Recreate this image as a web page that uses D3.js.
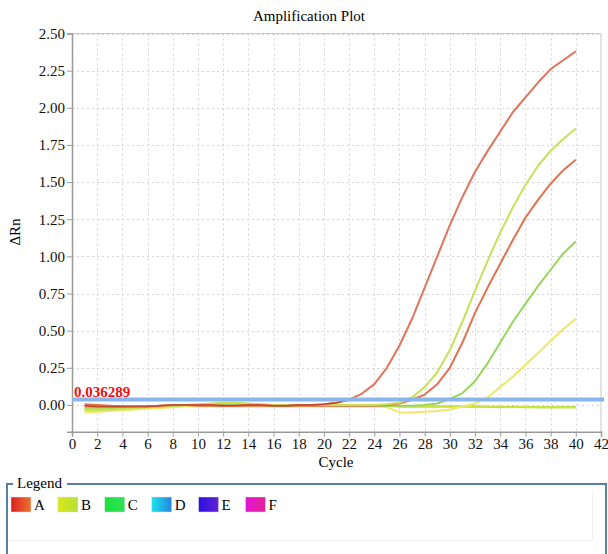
<!DOCTYPE html>
<html>
<head>
<meta charset="utf-8">
<script src="https://cdn.jsdelivr.net/npm/d3@7"></script>
<style>
    html, body { margin: 0; padding: 0; background: #fff; }
    svg { display: block; }
</style>
</head>
<body>
<div id="amp_chart"></div>
<script>
// cycle numbers and tick values
const cycles = [1, 2, 3, 4, 5, 6, 7, 8, 9, 10, 11, 12, 13, 14, 15, 16, 17, 18, 19, 20,
    21, 22, 23, 24, 25, 26, 27, 28, 29, 30, 31, 32, 33, 34, 35, 36, 37, 38, 39, 40];
const xTicks = [0, 2, 4, 6, 8, 10, 12, 14, 16, 18, 20, 22, 24, 26, 28, 30, 32, 34, 36, 38, 40, 42];
const yTicks = [0, 0.25, 0.5, 0.75, 1.0, 1.25, 1.5, 1.75, 2.0, 2.25, 2.5];
const threshold = 0.036289;

// delta Rn per well
const wellC2 = [-0.02, -0.02, -0.02, -0.015, -0.015, -0.01, -0.01, -0.005, -0.005, -0.005,
    -0.005, 0.0, 0.0, 0.0, -0.005, -0.005, -0.005, -0.005, -0.005, -0.005,
    -0.005, -0.005, -0.005, -0.005, -0.005, -0.01, -0.01, -0.01, -0.01, -0.01,
    -0.01, -0.01, -0.012, -0.015, -0.012, -0.015, -0.015, -0.015, -0.015, -0.015];
const wellB3 = [-0.035, -0.035, -0.03, -0.03, -0.025, -0.02, -0.015, -0.01, -0.005, 0.0,
    0.005, 0.01, 0.01, 0.005, 0.0, 0.0, -0.005, -0.005, -0.005, -0.005,
    -0.005, -0.005, -0.005, -0.005, -0.005, -0.008, -0.01, -0.01, -0.01, -0.01,
    -0.01, -0.012, -0.012, -0.012, -0.015, -0.012, -0.015, -0.015, -0.015, -0.015];
const wellB2 = [-0.05, -0.045, -0.04, -0.035, -0.03, -0.025, -0.02, -0.015, -0.01, -0.01,
    -0.01, -0.01, -0.01, -0.01, -0.01, -0.01, -0.01, -0.01, -0.01, -0.01,
    -0.01, -0.01, -0.01, -0.01, -0.015, -0.05, -0.05, -0.045, -0.04, -0.03,
    -0.01, 0.01, 0.05, 0.12, 0.19, 0.27, 0.35, 0.43, 0.51, 0.58];
const wellC1 = [-0.02, -0.02, -0.02, -0.02, -0.015, -0.01, -0.01, -0.005, 0.0, 0.0,
    0.0, 0.0, 0.0, 0.0, 0.0, 0.0, 0.0, 0.0, -0.005, -0.005,
    -0.005, -0.005, -0.005, -0.005, -0.005, -0.005, -0.005, 0.0, 0.01, 0.04,
    0.08, 0.16, 0.28, 0.42, 0.56, 0.68, 0.80, 0.91, 1.02, 1.10];
const wellA2 = [0.005, 0.0, -0.005, -0.01, -0.01, -0.01, -0.005, 0.0, 0.0, -0.005,
    -0.005, -0.005, -0.005, -0.005, -0.005, -0.005, -0.005, -0.005, -0.005, -0.005,
    -0.005, -0.005, -0.005, -0.005, 0.0, 0.01, 0.035, 0.07, 0.14, 0.25,
    0.42, 0.62, 0.79, 0.95, 1.11, 1.26, 1.38, 1.49, 1.58, 1.65];
const wellB1 = [-0.03, -0.03, -0.03, -0.025, -0.02, -0.015, -0.01, -0.005, 0.0, 0.005,
    0.01, 0.015, 0.015, 0.01, 0.005, 0.0, 0.0, 0.0, 0.0, 0.0,
    0.0, 0.0, 0.0, 0.0, 0.005, 0.015, 0.05, 0.12, 0.22, 0.37,
    0.56, 0.77, 0.97, 1.16, 1.33, 1.48, 1.61, 1.71, 1.79, 1.86];
const wellA1 = [-0.005, -0.01, -0.01, -0.01, -0.01, -0.01, -0.005, 0.0, 0.0, 0.0,
    0.0, -0.005, -0.005, 0.0, 0.0, -0.005, -0.005, 0.0, 0.0, 0.005,
    0.015, 0.035, 0.075, 0.14, 0.25, 0.40, 0.58, 0.79, 1.00, 1.21,
    1.40, 1.57, 1.71, 1.84, 1.97, 2.07, 2.17, 2.26, 2.32, 2.38];

const wells = [wellC2, wellB3, wellB2, wellC1, wellA2, wellB1, wellA1];
const wellColors = ["#8fd64a", "#cfe23a", "#ece86c", "#96d65c", "#e2714f", "#c6e05a", "#e4735c"];

// legend
const legendNames = ["A", "B", "C", "D", "E", "F"];
const legendFrom = ["#e01e22", "#d8e81a", "#1ee03c", "#1ee4ec", "#2a12e6", "#e412d4"];
const legendTo = ["#e8742e", "#b4e03a", "#2ee056", "#2284de", "#6420d2", "#e22496"];

const width = 608;
const height = 554;
const font = "'Liberation Serif', 'Times New Roman', serif";

var svg;

function init_chart() {
    svg = d3.select("#amp_chart").append("svg")
    .attr("width", width)
    .attr("height", height)
    .attr("viewBox", [0, 0, width, height])
    .style("background", "#fff");
}

function draw_plot() {
    const x = d3.scaleLinear().domain([0, 42]).range([72, 601]);
    const y = d3.scaleLinear().domain([-0.18, 2.5]).range([431.7, 33.5]);

    // grid
    const grid = svg.append("g")
    .attr("stroke", "#d4d4d4")
    .attr("stroke-width", 1)
    .attr("stroke-dasharray", "2,3");

    grid.selectAll("line.v")
    .data(xTicks.slice(1, -1))
    .join("line")
    .attr("class", "v")
    .attr("x1", d => Math.round(x(d)) + 0.5)
    .attr("x2", d => Math.round(x(d)) + 0.5)
    .attr("y1", y.range()[1])
    .attr("y2", y.range()[0]);

    grid.selectAll("line.h")
    .data(yTicks)
    .join("line")
    .attr("class", "h")
    .attr("x1", x.range()[0])
    .attr("x2", x.range()[1])
    .attr("y1", d => Math.round(y(d)) + 0.5)
    .attr("y2", d => Math.round(y(d)) + 0.5);

    // top and right frame
    svg.append("path")
    .attr("fill", "none")
    .attr("stroke", "#c8c8c8")
    .attr("d", `M${x.range()[0]},${y.range()[1]}H${x.range()[1]}V${y.range()[0]}`);

    // axes
    const xAxis = svg.append("g")
    .attr("transform", `translate(0,${y.range()[0]})`)
    .call(d3.axisBottom(x).tickValues(xTicks).tickFormat(d3.format("d")).tickSize(5).tickPadding(2));

    const yAxis = svg.append("g")
    .attr("transform", `translate(${x.range()[0]},0)`)
    .call(d3.axisLeft(y).tickValues(yTicks).tickFormat(d3.format(".2f")).tickSize(5).tickPadding(2));

    [xAxis, yAxis].forEach(g => {
        g.select(".domain").attr("stroke", "#9a9a9a").attr("stroke-width", 1.5);
        g.selectAll(".tick line").attr("stroke", "#9a9a9a");
        g.selectAll(".tick text")
        .attr("fill", "#111")
        .attr("font-family", font)
        .attr("font-size", 15);
    });

    // amplification curves
    const line = d3.line()
    .x((d, i) => x(cycles[i]))
    .y(d => y(d));

    svg.append("g")
    .attr("fill", "none")
    .attr("stroke-width", 2)
    .attr("stroke-linejoin", "round")
    .selectAll("path")
    .data(wells)
    .join("path")
    .attr("stroke", (d, i) => wellColors[i])
    .attr("d", line);

    // early baseline noise in darker red
    svg.append("path")
    .attr("fill", "none")
    .attr("stroke", "#c24a26")
    .attr("stroke-width", 1.5)
    .attr("d", line.defined((d, i) => cycles[i] <= 22)(wellA1));
    line.defined(() => true);

    // threshold
    svg.append("line")
    .attr("x1", x.range()[0])
    .attr("x2", x.range()[1] + 3)
    .attr("y1", y(threshold))
    .attr("y2", y(threshold))
    .attr("stroke", "#88b6ec")
    .attr("stroke-width", 4);

    svg.append("text")
    .attr("x", x(0) + 2)
    .attr("y", y(threshold) - 3)
    .attr("fill", "#f01010")
    .attr("font-family", font)
    .attr("font-weight", "bold")
    .attr("font-size", 15)
    .text(threshold.toString());

    // titles
    svg.append("text")
    .attr("x", 309)
    .attr("y", 21)
    .attr("text-anchor", "middle")
    .attr("font-family", font)
    .attr("font-size", 15)
    .text("Amplification Plot");

    svg.append("text")
    .attr("x", 336)
    .attr("y", 467)
    .attr("text-anchor", "middle")
    .attr("font-family", font)
    .attr("font-size", 15)
    .text("Cycle");

    svg.append("text")
    .attr("transform", "translate(20,232) rotate(-90)")
    .attr("text-anchor", "middle")
    .attr("font-family", font)
    .attr("font-size", 15)
    .text("ΔRn");
}

function draw_legend() {
    const lg = svg.append("g");

    // faint inner area
    lg.append("path")
    .attr("fill", "none")
    .attr("stroke", "#f1f1f1")
    .attr("d", "M9,540.5H592.5V490");

    lg.append("path")
    .attr("fill", "none")
    .attr("stroke", "#5b7fa2")
    .attr("stroke-width", 2)
    .attr("d", "M7,560V484H13M67,484H606V560");

    lg.append("text")
    .attr("x", 17)
    .attr("y", 488)
    .attr("font-family", font)
    .attr("font-size", 15)
    .text("Legend");

    const defs = svg.append("defs");
    legendNames.forEach((n, i) => {
        const grad = defs.append("linearGradient")
        .attr("id", "lg-" + n)
        .attr("x1", "0%")
        .attr("x2", "100%");
        grad.append("stop").attr("offset", "0%").attr("stop-color", legendFrom[i]);
        grad.append("stop").attr("offset", "100%").attr("stop-color", legendTo[i]);
    });

    const item = lg.selectAll("g.item")
    .data(legendNames)
    .join("g")
    .attr("class", "item")
    .attr("transform", (d, i) => `translate(${11 + i * 46.9},497)`);

    item.append("rect")
    .attr("width", 20)
    .attr("height", 15)
    .attr("fill", d => `url(#lg-${d})`)
    .attr("stroke", "#ddd")
    .attr("stroke-width", 0.5);

    item.append("text")
    .attr("x", 23)
    .attr("y", 12.5)
    .attr("font-family", font)
    .attr("font-size", 15)
    .text(d => d);
}

init_chart();
draw_plot();
draw_legend();
</script>
</body>
</html>
